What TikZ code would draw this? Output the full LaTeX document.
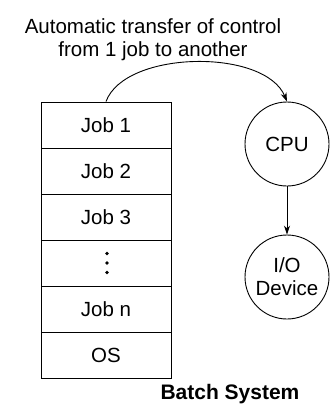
\documentclass[tikz,border=0pt]{standalone}
\usepackage{fontspec}
\setmainfont{Liberation Sans}
\usetikzlibrary{arrows.meta}
\begin{document}
\begin{tikzpicture}[x=1pt, y=-1pt, >={Stealth[length=9pt,width=6pt]}, line width=0.9pt,
  every node/.style={font=\fontsize{20.5}{23}\selectfont},
  job/.style={draw, minimum width=130pt, minimum height=46pt, inner sep=0pt},
  unit/.style={draw, circle, minimum size=84pt, inner sep=0pt, align=center}]
  \useasboundingbox (0,0) rectangle (331,407);
  % memory layout
  \foreach \t [count=\i] in {Job 1,Job 2,Job 3,{},Job n,OS}
    \node[job] (j\i) at (106,{125+46*(\i-1)}) {\t};
  \foreach \d in {-9.5,0,9.5}
    \fill (j4.center) ++(1,\d) circle (1.8pt);
  \node[unit] (cpu) at (287,144) {CPU};
  \node[unit] (io) at (287,277) {I/O\\Device};
  \draw[->] (cpu) -- (io);
  \draw[->] (j1.north) .. controls (125,50) and (265,48) .. (cpu.north);
  \node[align=center] (title) at (153,40) {Automatic transfer of control\\from 1 job to another};
  \node[font=\fontsize{21}{23}\selectfont\bfseries] (caption) at (230,394) {Batch System};
\end{tikzpicture}
\end{document}
